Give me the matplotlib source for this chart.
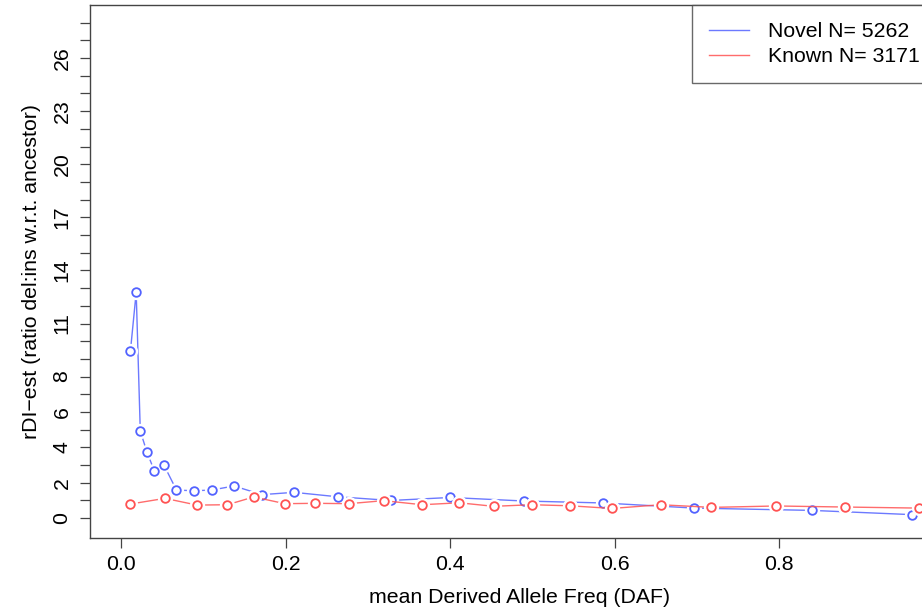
import matplotlib
matplotlib.use("Agg")
import matplotlib.pyplot as plt

plt.rcParams["font.family"] = ["Liberation Sans", "DejaVu Sans"]

# Novel variants
novel_daf = [0.011, 0.018, 0.023, 0.031, 0.040, 0.052, 0.067, 0.088, 0.110, 0.137,
             0.171, 0.210, 0.263, 0.328, 0.400, 0.490, 0.586, 0.697, 0.840, 0.962]
novel_rdi = [9.45, 12.76, 4.92, 3.75, 2.68, 2.98, 1.59, 1.55, 1.59, 1.82,
             1.33, 1.46, 1.21, 1.00, 1.17, 0.97, 0.86, 0.57, 0.44, 0.20]

# Known variants
known_daf = [0.011, 0.053, 0.092, 0.129, 0.161, 0.199, 0.236, 0.277, 0.319, 0.366,
             0.411, 0.453, 0.499, 0.546, 0.597, 0.656, 0.718, 0.797, 0.880, 0.970]
known_rdi = [0.80, 1.12, 0.74, 0.76, 1.20, 0.82, 0.84, 0.82, 0.99, 0.76,
             0.87, 0.67, 0.76, 0.70, 0.55, 0.76, 0.61, 0.69, 0.63, 0.57]

y_labelled = [0, 2, 4, 6, 8, 11, 14, 17, 20, 23, 26]
x_ticks = [0.0, 0.2, 0.4, 0.6, 0.8]

blue = "#5262ff"
red = "#ff5252"
fs = 15.3

fig = plt.figure(figsize=(9.22, 6.13), dpi=100)
ax = fig.add_axes([89.5 / 922, 1 - 538 / 613, 861 / 922, 533 / 613])


def draw_b(x, y, color, z):
    # R-style type="b": line with gaps round the open circles
    ax.plot(x, y, color=color, lw=1.0, alpha=0.85, zorder=z)
    ax.plot(x, y, ls="none", marker="o", ms=10, mfc="white", mec="white", zorder=z + 0.1)
    ax.plot(x, y, ls="none", marker="o", ms=6.2, mfc="none", mec=color, mew=1.3, zorder=z + 0.2)


draw_b(novel_daf, novel_rdi, blue, 2)
draw_b(known_daf, known_rdi, red, 3)

ax.set_xlim(-0.0388, 1.0088)
ax.set_ylim(-1.12, 29.0)

ax.set_xticks(x_ticks)
ax.set_xticklabels(["%.1f" % v for v in x_ticks], fontsize=fs)
ax.set_yticks(range(0, 29))
ax.set_yticklabels([str(v) if v in y_labelled else "" for v in range(0, 29)],
                   fontsize=fs, rotation=90, va="center")
ax.tick_params(direction="out", length=7, width=0.9, color="#444444", pad=5)
ax.tick_params(axis="y", pad=6)

for s in ax.spines.values():
    s.set_color("#444444")
    s.set_linewidth(1.0)

ax.set_xlabel("mean Derived Allele Freq (DAF)", fontsize=fs, labelpad=10)
ax.set_ylabel("rDI\u2212est (ratio del:ins w.r.t. ancestor)", fontsize=fs, labelpad=8)

h1, = ax.plot([], [], color=blue, lw=1.0, alpha=0.85)
h2, = ax.plot([], [], color=red, lw=1.0, alpha=0.85)
# legend anchored by its upper-left corner so the text ends right at the figure edge
leg = ax.legend([h1, h2], ["Novel N= 5262", "Known N= 3171"], loc="upper left",
                bbox_to_anchor=((692 - 89.5) / 861, 1.0),
                fontsize=fs, frameon=True, fancybox=False, borderaxespad=0,
                handlelength=1.9, handletextpad=0.9, labelspacing=0.3,
                borderpad=0.8)
leg.get_frame().set_edgecolor("#444444")
leg.get_frame().set_linewidth(1.0)

fig.savefig("out.png", dpi=100)
